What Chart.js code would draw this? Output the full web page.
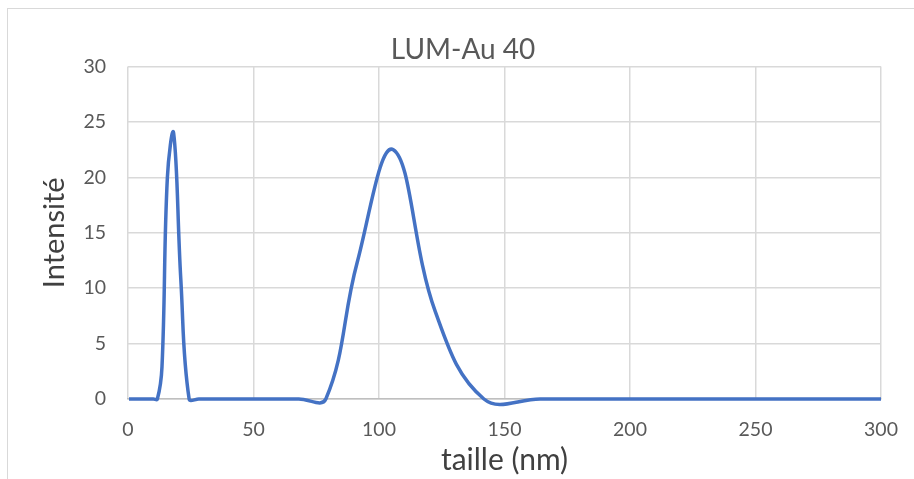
<!DOCTYPE html>
<html>
<head>
<meta charset="utf-8">
<script src="https://cdn.jsdelivr.net/npm/chart.js@4/dist/chart.umd.min.js"></script>
<style>
  html, body { margin: 0; padding: 0; background: #ffffff; }
  #wrap { position: relative; width: 914px; height: 479px; overflow: hidden; }
  #frame { position: absolute; left: 7px; top: 8px; width: 1000px; height: 600px; border: 1px solid #d9d9d9; box-sizing: border-box; }
  canvas { position: absolute; left: 0; top: 0; }
</style>
</head>
<body>
<div id="wrap">
  <div id="frame"></div>
  <canvas id="c" width="914" height="479"></canvas>
</div>
<script>
const chartTitle = "LUM-Au 40";
const xAxisTitle = "taille (nm)";
const yAxisTitle = "Intensité";
const sizes = [0.4, 0.4632, 0.5365, 0.6213, 0.7195, 0.8332, 0.9649, 1.117, 1.294, 1.499, 1.736, 2.010, 2.328, 2.696, 3.122, 3.615, 4.187, 4.849, 5.615, 6.503, 7.531, 8.721, 10.10, 11.70, 13.54, 15.69, 18.17, 21.04, 24.36, 28.21, 32.67, 37.84, 43.82, 50.75, 58.77, 68.06, 78.82, 91.28, 105.7, 122.4, 141.8, 164.2, 190.1, 220.2, 255.0, 295.3, 342.0];
const intensity = [0, 0, 0, 0, 0, 0, 0, 0, 0, 0, 0, 0, 0, 0, 0, 0, 0, 0, 0, 0, 0, 0, 0, 0, 2.9, 20.0, 24.0, 10.8, 0, 0, 0, 0, 0, 0, 0, 0, 0, 12.3, 22.5, 7.9, 0, 0, 0, 0, 0, 0, 0];
const xTicks = [0, 50, 100, 150, 200, 250, 300];
const yTicks = [0, 5, 10, 15, 20, 25, 30];

const points = sizes.map((s, i) => ({ x: s, y: intensity[i] }));
const FONT = "Lato, 'Open Sans', sans-serif";

const titleShift = {
  id: 'titleShift',
  afterLayout(chart) {
    const t = chart.titleBlock;
    if (t) { t.left = 36; t.right = 890; t.width = 854; }
  }
};

new Chart(document.getElementById('c'), {
  type: 'scatter',
  data: {
    datasets: [{
      data: points,
      showLine: true,
      borderColor: '#4472c4',
      borderWidth: 3.5,
      pointRadius: 0,
      pointHoverRadius: 0,
      tension: 0.4,
      fill: false,
      clip: { left: 0, right: 0, top: false, bottom: false }
    }]
  },
  plugins: [titleShift],
  options: {
    responsive: false,
    animation: false,
    devicePixelRatio: 1,
    elements: { line: { capBezierPoints: false } },
    layout: { padding: { left: 0, right: 33, top: 0, bottom: 0 } },
    plugins: {
      legend: { display: false },
      tooltip: { enabled: false },
      title: {
        display: true,
        text: chartTitle,
        color: '#595959',
        font: { family: FONT, size: 28, weight: 'normal' },
        padding: { top: 33, bottom: 0 }
      }
    },
    scales: {
      x: {
        type: 'linear',
        min: 0, max: 300,
        afterBuildTicks: (s) => { s.ticks = xTicks.map(v => ({ value: v })); },
        afterFit: (s) => { s.height = 80; s.paddingRight = 0; s.paddingLeft = 0; },
        grid: { color: '#d9d9d9', lineWidth: 1.5, drawTicks: false },
        border: { color: '#bfbfbf', width: 1.5 },
        ticks: { color: '#595959', font: { family: FONT, size: 19.5 }, padding: 19, maxRotation: 0 },
        title: { display: true, text: xAxisTitle, color: '#404040', font: { family: FONT, size: 30 }, padding: { top: 0, bottom: 1 } }
      },
      y: {
        type: 'linear',
        min: 0, max: 30,
        afterBuildTicks: (s) => { s.ticks = yTicks.map(v => ({ value: v })); },
        afterFit: (s) => { s.width = 128; },
        grid: { color: '#d9d9d9', lineWidth: 1.5, drawTicks: false },
        border: { display: false },
        ticks: { color: '#595959', font: { family: FONT, size: 19.5 }, padding: 22 },
        title: { display: true, text: yAxisTitle, color: '#404040', font: { family: FONT, size: 29 }, padding: { top: 37, bottom: 0 } }
      }
    }
  }
});
</script>
</body>
</html>
